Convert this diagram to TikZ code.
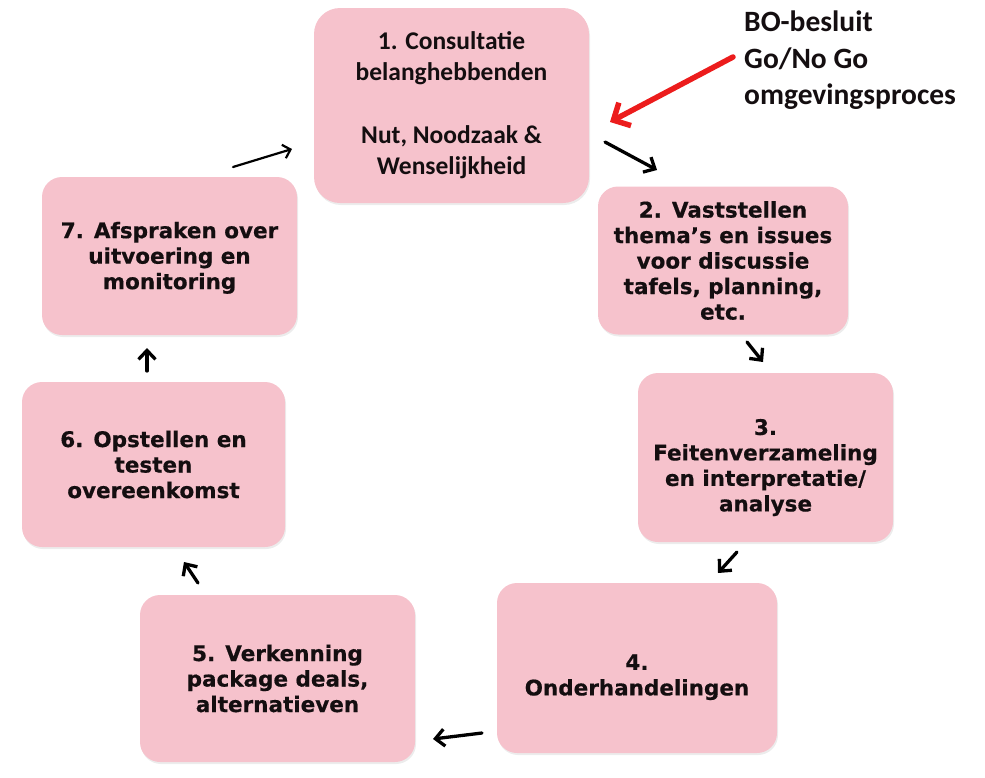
\documentclass[tikz,border=0pt]{standalone}
\usepackage{fontspec}
\setmainfont{DejaVu Sans}
\newfontfamily\calibrifont{Carlito}
\newfontfamily\stagefont{DejaVu Sans Bold}[FakeBold=0.5]
\usetikzlibrary{arrows.meta,shadows}
\definecolor{boxpink}{RGB}{246,194,204}
\definecolor{boxtext}{RGB}{20,14,16}
\definecolor{arrowred}{RGB}{236,28,28}
\begin{document}
\begin{tikzpicture}[x=1pt,y=-1pt,
  stage/.style={fill=boxpink, rounded corners=20pt, align=center, text=boxtext, inner sep=0pt,
    font=\stagefont\fontsize{21.5}{25.5}\selectfont,
    drop shadow={opacity=0.15,shadow xshift=1pt,shadow yshift=-2pt}},
  flow/.style={-{Straight Barb[length=9pt,width=17pt]}, line width=3.3pt, line cap=round, color=black},
  redflow/.style={-{Straight Barb[length=13pt,width=26pt]}, line width=5.5pt, line cap=round, color=arrowred}]
\useasboundingbox (0,0) rectangle (985,777);
% the seven stages
\node[stage, minimum width=275pt, minimum height=195pt, rounded corners=26pt,
  font=\calibrifont\bfseries\fontsize{25.5}{31}\selectfont] (consult) at (451.5,105.5)
  {1. Consultatie\\belanghebbenden\\[32pt]Nut, Noodzaak \&\\Wenselijkheid};
\node[stage, minimum width=250pt, minimum height=148pt] (thema) at (723,260.5)
  {2. Vaststellen\\thema’s en issues\\voor discussie\\tafels, planning,\\etc.};
\node[stage, minimum width=255pt, minimum height=169pt] (feiten) at (765.5,457.5)
  {\rule{0pt}{36pt}3.\\Feitenverzameling\\en interpretatie/\\analyse};
\node[stage, minimum width=280pt, minimum height=170pt] (onderh) at (637,668)
  {\rule{0pt}{34pt}4.\\Onderhandelingen};
\node[stage, minimum width=275pt, minimum height=167pt] (verken) at (277.5,678.5)
  {5. Verkenning\\package deals,\\alternatieven};
\node[stage, minimum width=263pt, minimum height=165pt] (opstel) at (153.5,464.5)
  {6. Opstellen en\\testen\\overeenkomst};
\node[stage, minimum width=255pt, minimum height=158pt] (afspr) at (169.5,256)
  {\rule{0pt}{20pt}7. Afspraken over\\uitvoering en\\monitoring};
% decision note
\node[anchor=north west, align=left, inner sep=0pt, text=boxtext,
  font=\calibrifont\bfseries\fontsize{29.5}{36.5}\selectfont] (besluit) at (744,11)
  {BO-besluit\\Go/No Go\\omgevingsproces};
% loose arrows between the stages
\coordinate (s12) at (605,142); \coordinate (e12) at (657,170);
\coordinate (s23) at (747,342); \coordinate (e23) at (763,362);
\coordinate (s34) at (737,552); \coordinate (e34) at (718,573);
\coordinate (s45) at (482,733); \coordinate (e45) at (433,739);
\coordinate (s56) at (198,583); \coordinate (e56) at (184,562);
\coordinate (s67) at (147,371); \coordinate (e67) at (147,348);
\coordinate (s71) at (233,167); \coordinate (e71) at (292,149);
\coordinate (redtail) at (733,57); \coordinate (redtip) at (610,122);
\draw[flow] (s12) -- (e12);
\draw[flow] (s23) -- (e23);
\draw[flow] (s34) -- (e34);
\draw[flow] (s45) -- (e45);
\draw[flow] (s56) -- (e56);
\draw[flow] (s67) -- (e67);
\draw[flow, line width=2.2pt, -{Straight Barb[length=7pt,width=14pt]}] (s71) -- (e71);
\draw[redflow] (redtail) -- (redtip);
\end{tikzpicture}
\end{document}
